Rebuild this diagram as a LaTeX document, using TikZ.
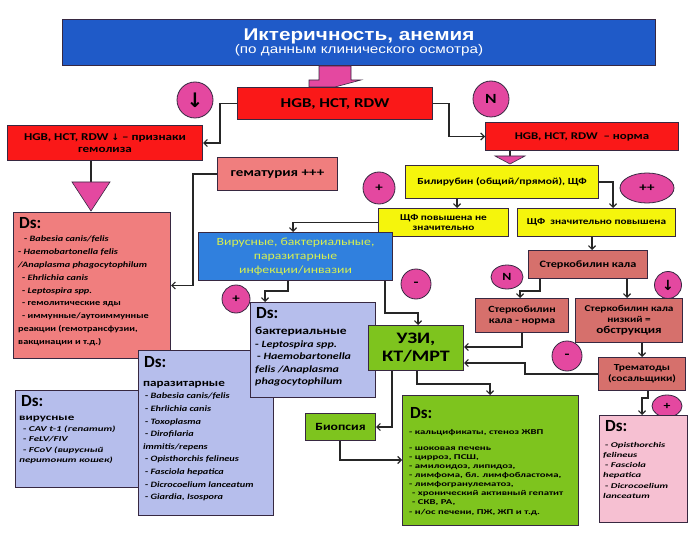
\documentclass[tikz,border=0pt]{standalone}
\usepackage{fontspec}
\setmainfont{Carlito}[FakeStretch=1.25]
\newfontfamily\widefam{Carlito}[FakeStretch=1.45]
\newfontfamily\dsfont{Carlito}
\newfontfamily\symfont{DejaVu Sans}
\newfontfamily\hdrfont{Liberation Sans}[FakeStretch=1.22]
\usetikzlibrary{calc,arrows.meta,shapes.geometric}
\definecolor{hdrblue}{RGB}{31,90,200}
\definecolor{redbx}{RGB}{250,24,24}
\definecolor{magc}{RGB}{228,72,160}
\definecolor{yelbx}{RGB}{245,245,12}
\definecolor{salm}{RGB}{240,126,126}
\definecolor{stercc}{RGB}{214,112,108}
\definecolor{bluebx}{RGB}{48,128,222}
\definecolor{bluetxt}{RGB}{215,240,80}
\definecolor{lav}{RGB}{182,190,236}
\definecolor{grn}{RGB}{126,196,30}
\definecolor{pnk}{RGB}{246,192,210}
\definecolor{edge}{RGB}{55,40,65}
\tikzset{
 bx/.style={draw=edge, line width=1pt, inner sep=0pt, anchor=north west, align=center, font=\bfseries},
 badge/.style={circle, draw=edge, fill=magc, line width=0.8pt, inner sep=0pt, font=\bfseries},
 oval/.style={ellipse, draw=edge, fill=magc, line width=0.8pt, inner sep=0pt, font=\bfseries},
 conn/.style={draw=black!85, line width=1.2pt, -{Straight Barb[length=3.5pt,width=7pt]}},
 wire/.style={draw=black!85, line width=1.2pt},
 dstxt/.style={anchor=north west, align=left, inner sep=0pt},
 dshead/.style={anchor=north west, inner sep=0pt, font=\dsfont\bfseries\fontsize{17}{17}\selectfont},
}
\begin{document}
\begin{tikzpicture}[x=1pt,y=-1pt]
\useasboundingbox (0,0) rectangle (696,548);
\fill[white] (0,0) rectangle (696,548);

% header
\node[bx, fill=hdrblue, minimum width=593pt, minimum height=46pt, text=white] (hdr) at (62,19)
 {\hdrfont\bfseries\fontsize{17}{17}\selectfont Иктеричность, анемия\\[-1pt]
  \hdrfont\mdseries\fontsize{12.5}{13}\selectfont (по данным клинического осмотра)};

% level 1
\node[bx, fill=redbx, minimum width=195pt, minimum height=32pt, font=\bfseries\fontsize{13.5}{14}\selectfont] (hgb) at (237,87) {HGB, HCT, RDW};
\fill[magc, draw=edge, line width=0.6pt] (hdr.south -| hgb.center) ++(-16,0) -- ++(32,0) -- ++(0,14) -- ++(10,0) -- ($(hgb.north)+(0,0)$) -- ++(-26,0) -- ++(0,-7) -- ++(10,0) -- cycle;
\node[badge, minimum size=36pt, font=\symfont\bfseries\fontsize{20}{20}\selectfont] (cdn) at (195,100) {↓};
\node[bx, fill=redbx, minimum width=195pt, minimum height=35pt, font=\bfseries\fontsize{10.5}{12}\selectfont] (hem) at (7,125) {HGB, HCT, RDW {\symfont\bfseries\fontsize{9}{9}\selectfont ↓} -- признаки\\гемолиза};
\node[badge, minimum size=36pt, font=\bfseries\fontsize{14}{14}\selectfont] (cn) at (491,99) {N};
\node[bx, fill=redbx, minimum width=193pt, minimum height=28pt, font=\bfseries\fontsize{10.3}{11}\selectfont] (norm) at (485,122) {HGB, HCT, RDW \ -- норма};

% yellow
\node[bx, fill=yelbx, minimum width=193pt, minimum height=33pt, font=\bfseries\fontsize{9.3}{10}\selectfont] (bili) at (405,165) {Билирубин (общий/прямой), ЩФ};
\node[badge, minimum size=32pt, font=\bfseries\fontsize{12}{12}\selectfont] (cp1) at (379,188) {+};
\node[oval, minimum width=54pt, minimum height=30pt, font=\bfseries\fontsize{12}{12}\selectfont] (cpp) at (647,188) {++};
\node[bx, fill=yelbx, minimum width=130pt, minimum height=28pt, font=\bfseries\fontsize{9}{10.5}\selectfont] (shf1) at (378,208) {ЩФ повышена не\\значительно};
\node[bx, fill=yelbx, minimum width=158pt, minimum height=28pt, font=\bfseries\fontsize{9}{10}\selectfont] (shf2) at (517,208) {ЩФ \ значительно повышена};

% hematuria, blue
\node[bx, fill=salm, minimum width=120pt, minimum height=33pt, font=\bfseries\fontsize{12}{12}\selectfont] (hemat) at (217,157) {гематурия +++};
\node[bx, fill=bluebx, minimum width=194pt, minimum height=48pt, text=bluetxt, font=\mdseries\fontsize{11}{14.3}\selectfont] (blue) at (198,232) {Вирусные, бактериальные,\\паразитарные\\инфекции/инвазии};
\node[badge, minimum size=28pt, font=\bfseries\fontsize{12}{12}\selectfont] (cp2) at (236,299) {+};
\node[badge, minimum size=30pt, font=\bfseries\fontsize{13}{13}\selectfont] (cm1) at (416,284) {-};

% stercobilin branch
\node[bx, fill=stercc, minimum width=119pt, minimum height=28pt, font=\bfseries\fontsize{9.8}{10}\selectfont] (sterc) at (528,250) {Стеркобилин кала};
\node[oval, minimum width=32pt, minimum height=24pt, font=\bfseries\fontsize{11}{11}\selectfont] (cn2) at (507,277) {N};
\node[badge, minimum size=27pt, font=\symfont\bfseries\fontsize{14}{14}\selectfont] (cdn2) at (668,285) {↓};
\node[bx, fill=stercc, minimum width=93pt, minimum height=34pt, font=\bfseries\fontsize{9.5}{11.5}\selectfont] (nrm) at (475,298) {Стеркобилин\\кала - норма};
\node[bx, fill=stercc, minimum width=107pt, minimum height=44pt, font=\bfseries\fontsize{9}{11}\selectfont] (obs) at (575,298) {Стеркобилин кала\\низкий =\\{\fontsize{10.5}{10.5}\selectfont обструкция}};
\node[badge, minimum size=30pt, font=\bfseries\fontsize{13}{13}\selectfont] (cm2) at (567,356) {-};
\node[bx, fill=stercc, minimum width=87pt, minimum height=33pt, font=\bfseries\fontsize{9.2}{11.5}\selectfont] (trem) at (598,357) {Трематоды\\(сосальщики)};
\node[oval, minimum width=30pt, minimum height=22pt, font=\bfseries\fontsize{11}{11}\selectfont] (cp3) at (667,406) {+};

% Ds boxes
\node[bx, fill=salm, minimum width=157pt, minimum height=146pt] (lds) at (13,212) {};
\node[dshead] (ldsh) at ($(lds.north west)+(6,5)$) {Ds:};
\node[dstxt, font=\bfseries\fontsize{8.2}{12.8}\selectfont] (ldst) at ($(lds.north west)+(5,24)$) {%
\hspace{6pt}- \textit{Babesia canis/felis}\\
- \textit{Haemobartonella felis}\\
\textit{/Anaplasma phagocytophilum}\\
\hspace{4pt}- \textit{Ehrlichia canis}\\
\hspace{4pt}- \textit{Leptospira spp.}\\
\hspace{4pt}- гемолитические яды\\
\hspace{4pt}- иммунные/аутоиммунные\\
реакции (гемотрансфузии,\\
вакцинации и т.д.)};

\node[bx, fill=lav, minimum width=125pt, minimum height=97pt] (vds) at (15,390) {};
\node[dshead] (vdsh) at ($(vds.north west)+(6,5)$) {Ds:};
\node[dstxt, font=\widefam\bfseries\fontsize{7.5}{10.5}\selectfont] (vdst) at ($(vds.north west)+(4,26)$) {%
{\fontsize{9}{10.5}\selectfont вирусные}\\
\hspace{4pt}- \textit{CAV t-1 (гепатит)}\\
\hspace{4pt}- \textit{FeLV/FIV}\\
\hspace{4pt}- \textit{FCoV (вирусный}\\
\textit{перитонит кошек)}};

\node[bx, fill=lav, minimum width=135pt, minimum height=165pt] (pds) at (138,350) {};
\node[dshead] (pdsh) at ($(pds.north west)+(6,6)$) {Ds:};
\node[dstxt, font=\bfseries\fontsize{8.2}{12.6}\selectfont] (pdst) at ($(pds.north west)+(5,31)$) {%
{\fontsize{10.5}{12.6}\selectfont паразитарные}\\
\hspace{2pt}- \textit{Babesia canis/felis}\\
\hspace{2pt}- \textit{Ehrlichia canis}\\
\hspace{2pt}- \textit{Toxoplasma}\\
\hspace{2pt}- \textit{Dirofilaria}\\
\textit{immitis/repens}\\
\hspace{2pt}- \textit{Opisthorchis felineus}\\
\hspace{2pt}- \textit{Fasciola hepatica}\\
\hspace{2pt}- \textit{Dicrocoelium lanceatum}\\
\hspace{2pt}- \textit{Giardia, Isospora}};

\node[bx, fill=lav, minimum width=125pt, minimum height=95pt] (bds) at (250,302) {};
\node[dshead] (bdsh) at ($(bds.north west)+(6,5)$) {Ds:};
\node[dstxt, font=\bfseries\fontsize{9.6}{12.5}\selectfont] (bdst) at ($(bds.north west)+(5,25)$) {%
{\fontsize{10.8}{12.5}\selectfont бактериальные}\\
- \textit{Leptospira spp.}\\
\hspace{2pt}- \textit{Haemobartonella}\\
\textit{felis /Anaplasma}\\
\textit{phagocytophilum}};

\node[bx, fill=grn, minimum width=95pt, minimum height=45pt, font=\bfseries\fontsize{16}{18}\selectfont] (uzi) at (368,325) {УЗИ,\\КТ/МРТ};
\node[bx, fill=grn, minimum width=70pt, minimum height=27pt, font=\bfseries\fontsize{11}{11}\selectfont] (bio) at (305,413) {Биопсия};

\node[bx, fill=grn, minimum width=176pt, minimum height=130pt] (gds) at (402,395) {};
\node[dshead] (gdsh) at ($(gds.north west)+(8,12)$) {Ds:};
\node[dstxt, font=\widefam\bfseries\fontsize{7.4}{9.1}\selectfont] (gdst) at ($(gds.north west)+(7,34)$) {%
- кальцификаты, стеноз ЖВП\\[7pt]
- шоковая печень\\
- цирроз, ПСШ,\\
- амилоидоз, липидоз,\\
- лимфома, бл. лимфобластома,\\
- лимфогранулематоз,\\
\hspace{3pt}- хронический активный гепатит\\
\hspace{3pt}- СКВ, РА,\\
- н/ос печени, ПЖ, ЖП и т.д.};

\node[bx, fill=pnk, minimum width=88pt, minimum height=107pt] (rds) at (599,415) {};
\node[dshead] (rdsh) at ($(rds.north west)+(6,5)$) {Ds:};
\node[dstxt, font=\widefam\bfseries\fontsize{7.3}{10.2}\selectfont] (rdst) at ($(rds.north west)+(4,27)$) {%
\hspace{2pt}- \textit{Opisthorchis}\\
\textit{felineus}\\
\hspace{2pt}- \textit{Fasciola}\\
\textit{hepatica}\\
\hspace{2pt}- \textit{Dicrocoelium}\\
\textit{lanceatum}};

% ---- connectors ----
\draw[conn] (hgb.west) -- ++(-17,0) |- (hem.east);
\draw[conn] (hgb.east) -- ++(16,0) |- (norm.west);

\coordinate (t1) at ($(hem.south west)+(84,0)$);
\draw[wire] (t1) -- ($(lds.north west)+(78,-30)$);
\fill[magc, draw=edge, line width=0.6pt] ($(lds.north west)+(59,-30)$) -- ($(lds.north west)+(97,-30)$) -- ($(lds.north west)+(78,-1)$) -- cycle;

\coordinate (t2) at ($(norm.south west)+(25,0)$);
\draw[wire] (t2) -- ($(bili.north west)+(105,-9)$);
\fill[magc, draw=edge, line width=0.6pt] ($(bili.north west)+(90,-9)$) -- ($(bili.north west)+(120,-9)$) -- ($(bili.north west)+(105,-1)$) -- cycle;

\draw[conn] (hemat.west) -- ++(-24,0) |- (lds.east);

\coordinate (c1) at ($(bili.south west)+(52,0)$);
\draw[conn] (c1) -- (c1 |- shf1.north);
\coordinate (c2) at ($(shf2.north west)+(96,0)$);
\draw[conn] (bili.east) -| (c2);
\coordinate (c3) at ($(blue.north west)+(95,0)$);
\draw[conn] (shf1.west) -| (c3);
\coordinate (c4) at ($(shf2.south west)+(75,0)$);
\draw[conn] (c4) -- (c4 |- sterc.north);

\coordinate (c5) at ($(blue.south west)+(90,0)$);
\coordinate (c6) at ($(bds.north west)+(15,0)$);
\draw[conn] (c5) -- ++(0,10) -| (c6);
\coordinate (c7) at ($(blue.south west)+(187,0)$);
\coordinate (c8) at ($(uzi.north west)+(50,0)$);
\draw[conn] (c7) -- ++(0,32) -| (c8);

\coordinate (c9) at ($(sterc.south west)+(12,0)$);
\coordinate (c10) at ($(nrm.north west)+(45,0)$);
\draw[conn] (c9) -- ++(0,12) -| (c10);
\coordinate (c11) at ($(sterc.south west)+(99,0)$);
\draw[conn] (c11) -- (c11 |- obs.north);
\coordinate (c12) at ($(nrm.south west)+(47,0)$);
\coordinate (c13) at ($(uzi.north east)+(0,22)$);
\draw[conn] (c12) |- (c13);
\coordinate (c14) at ($(obs.south west)+(67,0)$);
\draw[conn] (c14) -- (c14 |- trem.north);
\coordinate (c15) at ($(uzi.north east)+(0,38)$);
\draw[conn] (trem.west) -- ++(-73,0) |- (c15);
\coordinate (c16) at ($(trem.south west)+(50,0)$);
\coordinate (c17) at ($(rds.north west)+(43,0)$);
\draw[conn] (c16) -- ++(0,7) -| (c17);

\coordinate (c18) at ($(uzi.south west)+(24,0)$);
\draw[conn] (c18) |- (bio.east);
\coordinate (c19) at ($(uzi.south west)+(49,0)$);
\coordinate (c20) at ($(gds.north west)+(88,0)$);
\draw[conn] (c19) -- ++(0,13) -| (c20);
\coordinate (c21) at ($(bio.south west)+(35,0)$);
\coordinate (c22) at ($(gds.north west)+(0,65)$);
\draw[conn] (c21) |- (c22);
\end{tikzpicture}
\end{document}
